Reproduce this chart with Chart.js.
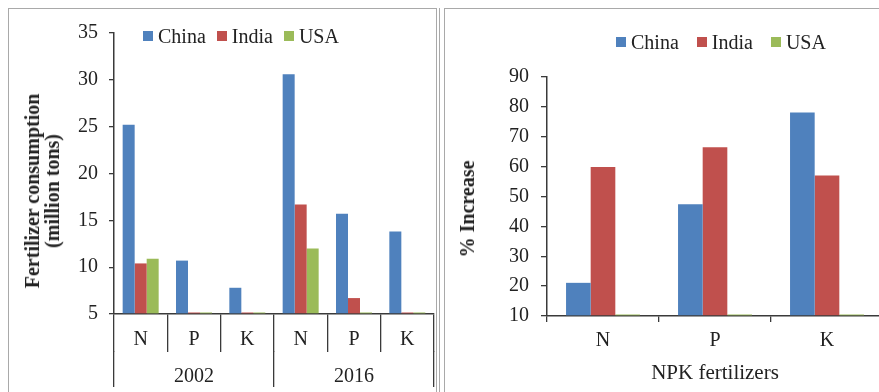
<!DOCTYPE html>
<html>
<head>
<meta charset="utf-8">
<script src="https://cdn.jsdelivr.net/npm/chart.js@4.4.1/dist/chart.umd.min.js"></script>
<style>
  html, body { margin: 0; padding: 0; background: #fff; }
  body { width: 879px; height: 392px; overflow: hidden; position: relative;
         font-family: 'Liberation Serif', 'Times New Roman', serif; color: #222; }
  .frame { position: absolute; border: 0 solid #a9a9a9; }
  #frameLeft  { left: 8px; top: 8px; width: 427px; height: 420px; border-width: 1.5px 1.5px 0 1.5px; }
  #frameMid   { left: 439px; top: 8px; width: 0; height: 420px; border-left-width: 1.5px; }
  #frameRight { left: 444px; top: 8px; width: 460px; height: 420px; border-width: 1.5px 0 0 1.5px; }
  canvas { position: absolute; top: 0; }
  #useChart { left: 0; }
  #increaseChart { left: 440px; }
  .legend { position: absolute; display: flex; align-items: center; font-size: 20px;
            line-height: 20px; white-space: nowrap; color: #222; }
  .legend .item { display: flex; align-items: center; }
  .legend .swatch { width: 10px; height: 10px; margin-right: 5px; }
  #legendUse { left: 143px; top: 26px; }
  #legendUse .item + .item { margin-left: 11px; }
  #legendIncrease { left: 616px; top: 32px; }
  #legendIncrease .item + .item { margin-left: 18px; }
  .ytitle { position: absolute; transform: translate(-50%, -50%) rotate(-90deg);
            font-weight: bold; font-size: 20px; line-height: 20px; text-align: center;
            white-space: nowrap; color: #222; }
</style>
</head>
<body>
<div class="frame" id="frameLeft"></div>
<div class="frame" id="frameMid"></div>
<div class="frame" id="frameRight"></div>

<canvas id="useChart" width="440" height="392"></canvas>
<canvas id="increaseChart" width="460" height="392"></canvas>

<div class="legend" id="legendUse"></div>
<div class="legend" id="legendIncrease"></div>

<div class="ytitle" style="left:42px; top:191px;">Fertilizer consumption<br>(million tons)</div>
<div class="ytitle" style="left:467px; top:209px;">% Increase</div>

<script>
// Fertilizer consumption (million tons) by nutrient, grouped by year
const nutrientLabels = ['N', 'P', 'K', 'N', 'P', 'K'];
const yearLabels = ['2002', '2016'];
const chinaUse = [25.2, 10.7, 7.8, 30.6, 15.7, 13.8];
const indiaUse = [10.4, 5, 5, 16.7, 6.7, 5];
const usaUse   = [10.9, 5, 5, 12.0, 5, 5];

// Percentage increase 2002 -> 2016
const increaseLabels = ['N', 'P', 'K'];
const chinaIncrease = [21.1, 47.4, 78.1];
const indiaIncrease = [59.9, 66.5, 57.0];
const usaIncrease   = [10, 10, 10];

const seriesNames = ['China', 'India', 'USA'];
const seriesColors = ['#4F81BD', '#C0504D', '#9BBB59'];

const FONT = "'Liberation Serif', 'Times New Roman', serif";
const INK = '#222';
const AXIS = '#3a3a3a';
Chart.defaults.font.family = FONT;
Chart.defaults.color = INK;

// Legend rendered as HTML next to the canvas
const htmlLegend = {
  id: 'htmlLegend',
  afterUpdate(chart, args, opts) {
    const box = document.getElementById(opts.containerID);
    box.innerHTML = '';
    const items = chart.options.plugins.legend.labels.generateLabels(chart);
    items.forEach(it => {
      const item = document.createElement('span');
      item.className = 'item';
      const sw = document.createElement('span');
      sw.className = 'swatch';
      sw.style.background = it.fillStyle;
      const tx = document.createElement('span');
      tx.textContent = it.text;
      item.append(sw, tx);
      box.append(item);
    });
  }
};

// Bars rise from the value-axis floor; values sitting on the floor show as a hairline
function makeDatasets(values, floor, catPct) {
  return values.map((v, i) => ({
    label: seriesNames[i],
    data: v,
    backgroundColor: seriesColors[i],
    borderWidth: 0,
    base: floor,
    minBarLength: 1.5,
    categoryPercentage: catPct,
    barPercentage: 1
  }));
}

new Chart(document.getElementById('useChart'), {
  type: 'bar',
  data: {
    labels: nutrientLabels,
    datasets: makeDatasets([chinaUse, indiaUse, usaUse], 5, 0.675)
  },
  plugins: [htmlLegend],
  options: {
    responsive: false,
    animation: false,
    layout: { padding: { left: 60, right: 6, top: 33, bottom: 0 } },
    plugins: {
      legend: { display: false },
      tooltip: { enabled: false },
      htmlLegend: { containerID: 'legendUse' }
    },
    scales: {
      y: {
        min: 5, max: 35,
        ticks: { stepSize: 5, padding: 11, font: { size: 20 }, color: INK },
        grid: { drawOnChartArea: false, tickLength: 5, color: AXIS, lineWidth: 1.3 },
        border: { color: AXIS, width: 1.5 },
        afterFit(s) { s.width = 54; }
      },
      x: {
        position: 'bottom',
        ticks: { padding: -24, font: { size: 20 }, color: INK, maxRotation: 0 },
        grid: { offset: true, drawOnChartArea: false, tickLength: 38, color: AXIS, lineWidth: 1.3 },
        border: { color: AXIS, width: 1.5 },
        afterFit(s) { s.height = 37; }
      },
      years: {
        type: 'category',
        position: 'bottom',
        labels: yearLabels,
        offset: true,
        ticks: { padding: -22, font: { size: 20 }, color: INK, maxRotation: 0 },
        grid: { offset: true, drawOnChartArea: false, tickLength: 36, color: AXIS, lineWidth: 1.3 },
        border: { display: false },
        afterFit(s) { s.height = 41; }
      }
    }
  }
});

new Chart(document.getElementById('increaseChart'), {
  type: 'bar',
  data: {
    labels: increaseLabels,
    datasets: makeDatasets([chinaIncrease, indiaIncrease, usaIncrease], 10, 0.66)
  },
  plugins: [htmlLegend],
  options: {
    responsive: false,
    animation: false,
    layout: { padding: { left: 50, right: 17, top: 77, bottom: 0 } },
    plugins: {
      legend: { display: false },
      tooltip: { enabled: false },
      htmlLegend: { containerID: 'legendIncrease' }
    },
    scales: {
      y: {
        min: 10, max: 90,
        ticks: { stepSize: 10, padding: 12, font: { size: 20 }, color: INK },
        grid: { drawOnChartArea: false, tickLength: 6, color: AXIS, lineWidth: 1.3 },
        border: { color: AXIS, width: 1.5 },
        afterFit(s) { s.width = 57; }
      },
      x: {
        ticks: { padding: 7, font: { size: 20 }, color: INK, maxRotation: 0 },
        grid: { offset: true, drawOnChartArea: false, tickLength: 6, color: AXIS, lineWidth: 1.3 },
        border: { color: AXIS, width: 1.5 },
        title: { display: true, text: 'NPK fertilizers', font: { size: 21 }, color: INK,
                 padding: { top: 0, bottom: 6 } },
        afterFit(s) { s.height = 76; }
      }
    }
  }
});
</script>
</body>
</html>
